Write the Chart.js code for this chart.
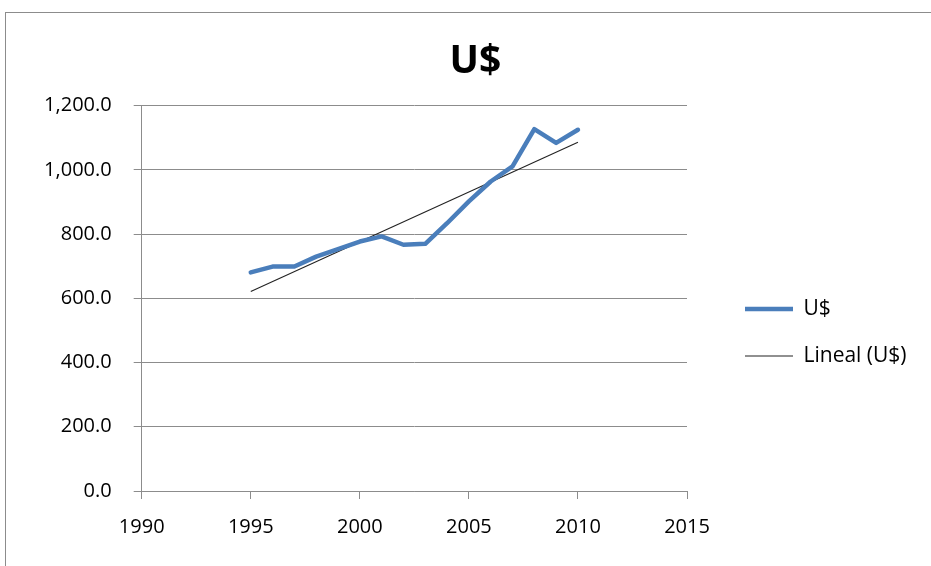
<!DOCTYPE html>
<html>
<head>
<meta charset="utf-8">
<script src="https://cdn.jsdelivr.net/npm/chart.js@4/dist/chart.umd.min.js"></script>
<style>
  html, body { margin: 0; padding: 0; background: #fff; }
  #wrap { position: relative; width: 931px; height: 566px; overflow: hidden; }
  #frame { position: absolute; left: 5px; top: 12px; width: 1000px; height: 700px;
           border-top: 1.5px solid #8c8c8c; border-left: 1.5px solid #8c8c8c; }
  #c { position: absolute; left: 0; top: 0; }
</style>
</head>
<body>
<div id="wrap">
  <div id="frame"></div>
  <canvas id="c" width="931" height="566"></canvas>
</div>
<script>
// ---- data ----
const years = [1995, 1996, 1997, 1998, 1999, 2000, 2001, 2002, 2003, 2004, 2005, 2006, 2007, 2008, 2009, 2010];
const usd   = [681, 699, 699, 730, 753, 777, 793, 767, 770, 834, 902, 964, 1011, 1127, 1084, 1125];
const trendYears  = [1995, 2010];
const trendValues = [621, 1086];
const xTicks = [1990, 1995, 2000, 2005, 2010, 2015];
const yTicks = [0, 200, 400, 600, 800, 1000, 1200];
const titleText = 'U$';
const seriesLabel = 'U$';
const trendLabel = 'Lineal (U$)';

const FONT = "'Open Sans', 'Liberation Sans', sans-serif";
Chart.defaults.font.family = FONT;
Chart.defaults.color = '#000';

const PAD_LEFT = 20;
const AREA = { left: 141.7, right: 687, top: 105.7, bottom: 491 };
const W = 931, H = 566;

const legendFix = {
  id: 'legendFix',
  beforeLayout(chart) {
    const lg = chart.legend;
    if (lg && !lg._patched) {
      const orig = lg.fit;
      lg.fit = function () { orig.call(this); this.width = W - AREA.right; };
      lg._patched = true;
    }
  },
  afterLayout(chart) {
    const lg = chart.legend;
    if (!lg) return;
    const w = lg.width, h = lg.height;
    const padding = lg.options.labels.padding;
    lg.left = 745 - padding; lg.right = lg.left + w;
    lg.top = 298.5 - padding; lg.bottom = lg.top + h;
  }
};

const gray = '#8c8c8c';

new Chart(document.getElementById('c'), {
  type: 'line',
  data: {
    datasets: [
      {
        label: seriesLabel,
        data: years.map((y, i) => ({ x: y, y: usd[i] })),
        borderColor: '#4a7ebb',
        backgroundColor: '#4a7ebb',
        borderWidth: 4.5,
        pointRadius: 0,
        pointStyle: 'line',
        tension: 0,
        borderJoinStyle: 'round',
        borderCapStyle: 'round'
      },
      {
        label: trendLabel,
        data: trendYears.map((y, i) => ({ x: y, y: trendValues[i] })),
        borderColor: '#222',
        backgroundColor: '#222',
        borderWidth: 1.1,
        pointRadius: 0,
        pointStyle: 'line',
        tension: 0
      }
    ]
  },
  options: {
    responsive: false,
    animation: false,
    devicePixelRatio: 1,
    layout: { padding: { left: PAD_LEFT, top: 0, right: 0, bottom: 0 } },
    plugins: {
      title: {
        display: true,
        text: titleText,
        color: '#000',
        font: { size: 39, weight: 'bold', family: FONT },
        padding: { top: 38.6, bottom: 20.3 }
      },
      legend: {
        position: 'right',
        align: 'start',
        labels: {
          usePointStyle: true,
          pointStyleWidth: 48,
          boxWidth: 48,
          padding: 26,
          color: '#000',
          font: { size: 21, family: FONT }
        }
      },
      tooltip: { enabled: false }
    },
    scales: {
      x: {
        type: 'linear',
        min: xTicks[0],
        max: xTicks[xTicks.length - 1],
        afterBuildTicks(s) { s.ticks = xTicks.map(v => ({ value: v })); },
        afterFit(s) { s.height = H - AREA.bottom; },
        ticks: {
          callback: v => String(v),
          padding: 16,
          maxRotation: 0,
          font: { size: 20 },
          color: '#000'
        },
        grid: { drawOnChartArea: false, drawTicks: true, tickLength: 8, color: gray, lineWidth: 1 },
        border: { display: true, color: gray, width: 1 }
      },
      y: {
        min: yTicks[0],
        max: yTicks[yTicks.length - 1],
        afterBuildTicks(s) { s.ticks = yTicks.map(v => ({ value: v })); },
        afterFit(s) { s.width = AREA.left - PAD_LEFT; },
        ticks: {
          callback: v => v.toLocaleString('en-US', { minimumFractionDigits: 1, maximumFractionDigits: 1 }),
          padding: 22,
          font: { size: 20 },
          color: '#000'
        },
        grid: { drawTicks: true, tickLength: 8, color: gray, lineWidth: 1 },
        border: { display: true, color: gray, width: 1 }
      }
    }
  },
  plugins: [legendFix]
});
</script>
</body>
</html>
